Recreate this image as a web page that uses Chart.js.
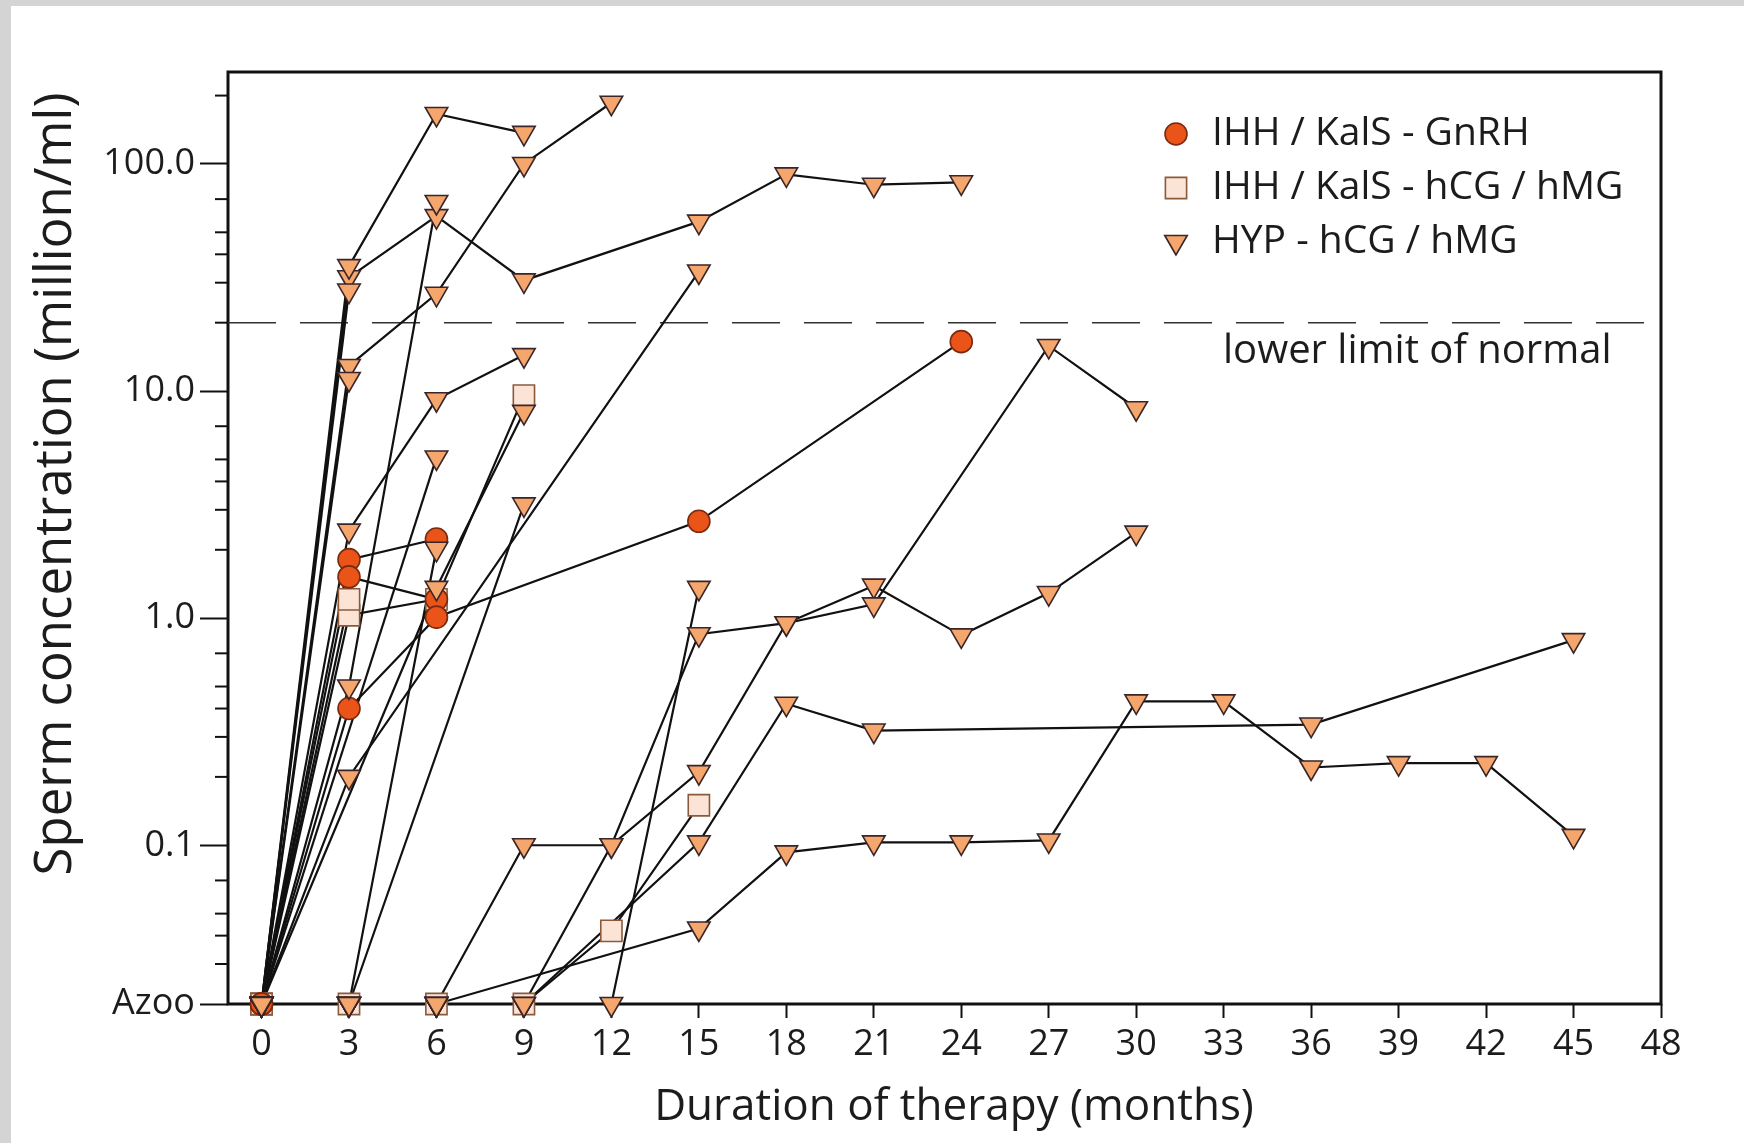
<!DOCTYPE html>
<html>
<head>
<meta charset="utf-8">
<title>Sperm concentration during therapy</title>
<script src="https://cdn.jsdelivr.net/npm/chart.js@4.4.1/dist/chart.umd.min.js"></script>
<style>
  html, body { margin: 0; padding: 0; background: #d4d4d4; }
  #wrap { position: absolute; left: 11px; top: 6px; width: 1733px; height: 1137px; background: #fff; }
</style>
</head>
<body>
<div id="wrap"><canvas id="spermChart" width="1733" height="1137"></canvas></div>
<script>
// "Azoo" (azoospermia) is plotted on the bottom of the log axis
const AZOO = 0.02;

// HYP - hCG/hMG, one array per patient: [month, million/ml]
const hyp01 = [[0, AZOO], [3, 31.7], [6, 58.9], [9, 30.7], [15, 55.7], [18, 90], [21, 81], [24, 83]];
const hyp02 = [[0, AZOO], [3, 35.5], [6, 166], [9, 137]];
const hyp03 = [[0, AZOO], [3, 12.9], [6, 26.8], [9, 100], [12, 186]];
const hyp04 = [[0, AZOO], [3, 0.5], [6, 68]];
const hyp05 = [[0, AZOO], [3, 0.2], [15, 33.6]];
const hyp06 = [[0, AZOO], [3, 2.43], [6, 9.2], [9, 14.4]];
const hyp07 = [[0, AZOO], [3, 27.7]];
const hyp08 = [[0, AZOO], [3, 11.3]];
const hyp09 = [[0, AZOO], [6, 5.1]];
const hyp10 = [[0, AZOO], [3, AZOO], [6, 2.02]];
const hyp11 = [[0, AZOO], [6, 1.36], [9, 8.1]];
const hyp12 = [[0, AZOO], [3, AZOO], [6, AZOO], [9, 0.1], [12, 0.1], [15, 0.85], [18, 0.95], [21, 1.39], [24, 0.84], [27, 1.29], [30, 2.38]];
const hyp13 = [[0, AZOO], [3, AZOO], [6, AZOO], [9, AZOO], [12, 0.1], [15, 0.21], [18, 0.95], [21, 1.15], [27, 15.8], [30, 8.4]];
const hyp14 = [[0, AZOO], [3, AZOO], [6, AZOO], [9, AZOO], [12, AZOO], [15, 1.36]];
const hyp15 = [[0, AZOO], [3, AZOO], [6, AZOO], [9, AZOO], [15, 0.103], [18, 0.42], [21, 0.32], [36, 0.34], [45, 0.8]];
const hyp16 = [[0, AZOO], [3, AZOO], [6, AZOO], [15, 0.043], [18, 0.093], [21, 0.103], [24, 0.103], [27, 0.105], [30, 0.43], [33, 0.43], [36, 0.22], [39, 0.23], [42, 0.23], [45, 0.11]];
const hyp17 = [[0, AZOO], [3, AZOO], [9, 3.17]];

// IHH/KalS - GnRH
const gnrh01 = [[0, AZOO], [3, 1.81], [6, 2.23]];
const gnrh02 = [[0, AZOO], [3, 1.52], [6, 1.21]];
const gnrh03 = [[0, AZOO], [3, 0.4], [6, 1.01], [15, 2.67], [24, 16.5]];

// IHH/KalS - hCG/hMG
const hcg01 = [[0, AZOO], [3, 1.03], [6, 1.21], [9, 9.55]];
const hcg02 = [[0, AZOO], [3, 1.21]];
const hcg03 = [[0, AZOO], [3, AZOO], [6, AZOO], [9, AZOO], [12, 0.042], [15, 0.15]];

const hypPatients = [hyp01, hyp02, hyp03, hyp04, hyp05, hyp06, hyp07, hyp08, hyp09,
  hyp10, hyp11, hyp12, hyp13, hyp14, hyp15, hyp16, hyp17];
const gnrhPatients = [gnrh01, gnrh02, gnrh03];
const hcgPatients = [hcg01, hcg02, hcg03];

const normalLimit = 20;
const xTickValues = [0, 3, 6, 9, 12, 15, 18, 21, 24, 27, 30, 33, 36, 39, 42, 45, 48];
const yTickValues = [AZOO, 0.1, 1, 10, 100];
const yTickLabels = ['Azoo', '0.1', '1.0', '10.0', '100.0'];
const yMinorTicks = [0.03, 0.04, 0.05, 0.07, 0.2, 0.3, 0.4, 0.5, 0.7, 2, 3, 4, 5, 7, 20, 30, 40, 50, 70, 200];

const groupNames = ['IHH / KalS - GnRH', 'IHH / KalS - hCG / hMG', 'HYP - hCG / hMG'];

const FONT = "'Open Sans', 'Noto Sans', sans-serif";
const INK = '#1c1c1c';

const groupStyle = [
  { pointStyle: 'circle', radius: 11, rotation: 0, fill: '#ea5418', stroke: '#7a2a10', order: 1 },
  { pointStyle: 'rect', radius: 15, rotation: 0, fill: '#fbe4d6', stroke: '#8b5a3c', order: 2 },
  { pointStyle: 'triangle', radius: 13, rotation: 180, fill: '#f5a66c', stroke: '#3a2528', order: 0 }
];

function toXY(p) {
  return p.map(function (pt) { return { x: pt[0], y: pt[1] }; });
}

var datasets = [];

// the dashed "lower limit of normal"
datasets.push({
  data: [{ x: -1.15, y: normalLimit }, { x: 47.6, y: normalLimit }],
  showLine: true,
  borderColor: '#333',
  borderWidth: 1.6,
  borderDash: [48, 24],
  pointRadius: 0,
  order: 5
});

// one line per patient, points drawn separately on top
[gnrhPatients, hcgPatients, hypPatients].forEach(function (group) {
  group.forEach(function (p) {
    datasets.push({
      data: toXY(p),
      showLine: true,
      borderColor: '#111',
      borderWidth: 2.2,
      pointRadius: 0,
      order: 4
    });
  });
});

[gnrhPatients, hcgPatients, hypPatients].forEach(function (group, g) {
  var st = groupStyle[g];
  var pts = [];
  group.forEach(function (p) { pts = pts.concat(toXY(p)); });
  datasets.push({
    label: groupNames[g],
    data: pts,
    showLine: false,
    pointStyle: st.pointStyle,
    pointRadius: st.radius,
    pointRotation: st.rotation,
    pointBackgroundColor: st.fill,
    pointBorderColor: st.stroke,
    pointBorderWidth: 1.6,
    order: st.order
  });
});

function drawMarker(ctx, style, x, y) {
  ctx.save();
  ctx.fillStyle = style.fill;
  ctx.strokeStyle = style.stroke;
  ctx.lineWidth = 1.6;
  ctx.beginPath();
  if (style.pointStyle === 'circle') {
    ctx.arc(x, y, style.radius, 0, Math.PI * 2);
  } else if (style.pointStyle === 'rect') {
    var s = style.radius * Math.SQRT1_2;
    ctx.rect(x - s, y - s, 2 * s, 2 * s);
  } else {
    var r = style.radius;
    ctx.moveTo(x, y + r);
    ctx.lineTo(x - r * 0.866, y - r / 2);
    ctx.lineTo(x + r * 0.866, y - r / 2);
    ctx.closePath();
  }
  ctx.fill();
  ctx.stroke();
  ctx.restore();
}

const framePlugin = {
  id: 'frameAndNotes',
  beforeDatasetsDraw: function (chart) {
    var ctx = chart.ctx, a = chart.chartArea, ys = chart.scales.y;
    ctx.save();
    ctx.strokeStyle = '#111';
    ctx.lineWidth = 3;
    ctx.strokeRect(a.left, a.top, a.right - a.left, a.bottom - a.top);
    // short minor ticks on the log axis
    ctx.lineWidth = 2;
    yMinorTicks.forEach(function (v) {
      var y = ys.getPixelForValue(v);
      ctx.beginPath();
      ctx.moveTo(a.left - 13, y);
      ctx.lineTo(a.left, y);
      ctx.stroke();
    });
    ctx.restore();
  },
  afterDraw: function (chart) {
    var ctx = chart.ctx, ys = chart.scales.y;
    ctx.save();
    ctx.fillStyle = INK;
    ctx.textBaseline = 'middle';

    // legend
    ctx.font = '39px ' + FONT;
    ctx.textAlign = 'left';
    var legendY = [128, 182, 236];
    groupNames.forEach(function (name, i) {
      drawMarker(ctx, groupStyle[i], 1165, legendY[i]);
      ctx.fillStyle = INK;
      ctx.fillText(name, 1201, legendY[i]);
    });

    // note under the dashed line
    ctx.font = '40px ' + FONT;
    ctx.fillText('lower limit of normal', 1212, ys.getPixelForValue(normalLimit) + 29);

    // axis titles
    ctx.textAlign = 'center';
    ctx.font = '44px ' + FONT;
    ctx.fillText('Duration of therapy (months)', 943, 1101);

    ctx.translate(45, 478);
    ctx.rotate(-Math.PI / 2);
    ctx.font = '51px ' + FONT;
    ctx.fillText('Sperm concentration (million/ml)', 0, 0);
    ctx.restore();
  }
};

var chart = new Chart(document.getElementById('spermChart').getContext('2d'), {
  type: 'scatter',
  data: { datasets: datasets },
  plugins: [framePlugin],
  options: {
    responsive: false,
    animation: false,
    layout: {
      padding: { left: 0, right: 83, top: 66, bottom: 0 }
    },
    plugins: {
      legend: { display: false },
      tooltip: { enabled: false }
    },
    elements: {
      line: { tension: 0 }
    },
    datasets: {
      scatter: { clip: false }
    },
    scales: {
      x: {
        type: 'linear',
        min: -1.15,
        max: 48,
        afterBuildTicks: function (scale) {
          scale.ticks = xTickValues.map(function (v) { return { value: v }; });
        },
        afterFit: function (scale) { scale.height = 139; },
        border: { display: false },
        grid: {
          drawOnChartArea: false,
          drawTicks: true,
          tickLength: 14,
          tickWidth: 2,
          tickColor: '#111'
        },
        ticks: {
          autoSkip: false,
          maxRotation: 0,
          padding: 5,
          color: INK,
          font: { family: FONT, size: 36 },
          callback: function (v) { return String(v); }
        }
      },
      y: {
        type: 'logarithmic',
        min: AZOO,
        max: 254,
        afterBuildTicks: function (scale) {
          scale.ticks = yTickValues.map(function (v) { return { value: v }; });
        },
        afterFit: function (scale) { scale.width = 217; },
        border: { display: false },
        grid: {
          drawOnChartArea: false,
          drawTicks: true,
          tickLength: 28,
          tickWidth: 2,
          tickColor: '#111'
        },
        ticks: {
          autoSkip: false,
          padding: 5,
          color: INK,
          font: { family: FONT, size: 36 },
          callback: function (v) {
            var i = yTickValues.findIndex(function (t) { return Math.abs(t - v) / t < 1e-6; });
            return i >= 0 ? yTickLabels[i] : '';
          }
        }
      }
    }
  }
});
</script>
</body>
</html>
